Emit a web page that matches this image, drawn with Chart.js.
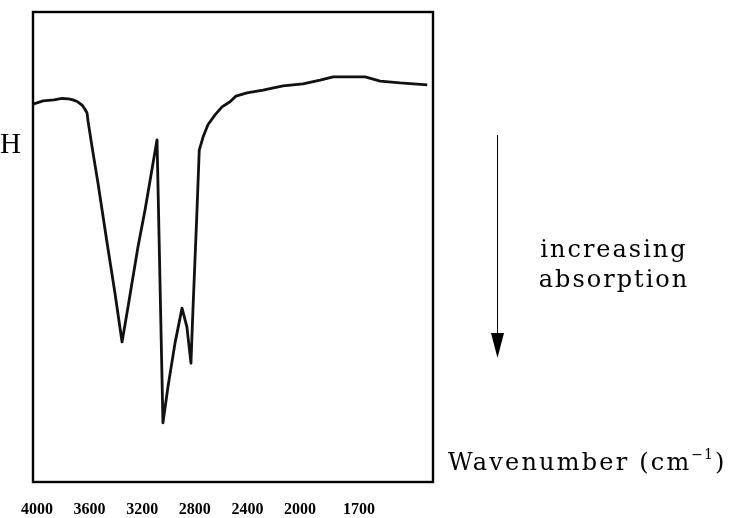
<!DOCTYPE html>
<html>
<head>
<meta charset="utf-8">
<script src="https://cdn.jsdelivr.net/npm/chart.js@4/dist/chart.umd.min.js"></script>
<style>
  html, body { margin: 0; padding: 0; background: #fff; }
  #wrap { width: 734px; height: 518px; }
</style>
</head>
<body>
<div id="wrap"><canvas id="spectrum" width="734" height="518"></canvas></div>
<script>
// IR trace: wavenumber (cm-1) against transmittance (%)
const wavenumbers = [4030, 3954, 3870, 3810, 3760, 3726, 3690, 3657, 3635, 3619, 3611, 3581,
  3536, 3467, 3407, 3353, 3308, 3232, 3178, 3087, 3042, 3004, 2950, 2897, 2860, 2829, 2814,
  2783, 2766, 2737, 2700, 2646, 2593, 2532, 2487, 2403, 2281, 2129, 1985, 1898, 1832, 1746,
  1669, 1593, 1492, 1354];
const transmittance = [80.4, 81.1, 81.3, 81.6, 81.5, 81.3, 80.9, 80.2, 79.3, 78.5, 76.7, 71.3,
  63.6, 50.9, 40.2, 29.8, 37.2, 50.0, 57.9, 72.8, 12.6, 20.2, 29.6, 37.0, 33.0, 25.3, 36.6,
  57.9, 70.6, 73.4, 76.0, 78.1, 79.8, 80.9, 82.1, 82.8, 83.4, 84.3, 84.7, 85.5, 86.2, 86.2,
  86.2, 85.3, 84.9, 84.5];
const tickValues = [4000, 3600, 3200, 2800, 2400, 2000, 1700];

// chart paper changes scale at 2000 cm-1 (lower range is stretched)
const X_HIGH = 4030;
const X_BREAK = 2000;
const X_LOW = 1325;
const BREAK_AT = 267 / 400;

class SplitWavenumberScale extends Chart.LinearScale {
  toDecimal(v) {
    if (v >= X_BREAK) return (X_HIGH - v) / (X_HIGH - X_BREAK) * BREAK_AT;
    return BREAK_AT + (X_BREAK - v) / (X_BREAK - X_LOW) * (1 - BREAK_AT);
  }
  getPixelForValue(v) {
    return this.getPixelForDecimal(this.toDecimal(v));
  }
  getValueForPixel(p) {
    const d = this.getDecimalForPixel(p);
    if (d <= BREAK_AT) return X_HIGH - d / BREAK_AT * (X_HIGH - X_BREAK);
    return X_BREAK - (d - BREAK_AT) / (1 - BREAK_AT) * (X_BREAK - X_LOW);
  }
}
SplitWavenumberScale.id = 'splitWavenumber';
SplitWavenumberScale.defaults = Chart.LinearScale.defaults;
Chart.register(SplitWavenumberScale);

// box around the plot plus the side notes
const decorations = {
  id: 'decorations',
  afterDraw(chart) {
    const ctx = chart.ctx;
    const area = chart.chartArea;
    ctx.save();
    ctx.strokeStyle = '#000';
    ctx.fillStyle = '#000';

    ctx.lineWidth = 2.4;
    ctx.strokeRect(area.left, area.top, area.right - area.left, area.bottom - area.top);

    ctx.font = '29px "Liberation Serif"';
    ctx.textBaseline = 'alphabetic';
    ctx.textAlign = 'left';
    ctx.fillText('H', 0, 153);

    // downward arrow
    ctx.lineWidth = 1;
    ctx.beginPath();
    ctx.moveTo(497.5, 135);
    ctx.lineTo(497.5, 340);
    ctx.stroke();
    ctx.beginPath();
    ctx.moveTo(491, 333);
    ctx.lineTo(504, 333);
    ctx.lineTo(497.5, 358);
    ctx.closePath();
    ctx.fill();

    ctx.font = '24px "DejaVu Serif"';
    ctx.letterSpacing = '2px';
    ctx.textAlign = 'center';
    ctx.fillText('increasing', 614, 257);
    ctx.fillText('absorption', 614, 287);

    // axis name with superscript
    ctx.textAlign = 'left';
    ctx.letterSpacing = '2.2px';
    ctx.font = '24px "DejaVu Serif"';
    let x = 448;
    const main = 'Wavenumber (cm';
    ctx.fillText(main, x, 470);
    x += ctx.measureText(main).width;
    ctx.letterSpacing = '1px';
    ctx.font = '14px "DejaVu Serif"';
    ctx.fillText('\u22121', x, 459);
    x += ctx.measureText('\u22121').width + 1;
    ctx.font = '24px "DejaVu Serif"';
    ctx.fillText(')', x, 470);
    ctx.restore();
  }
};

new Chart(document.getElementById('spectrum'), {
  type: 'line',
  data: {
    datasets: [{
      data: wavenumbers.map((w, i) => ({ x: w, y: transmittance[i] })),
      borderColor: '#111',
      borderWidth: 2.8,
      borderJoinStyle: 'round',
      pointRadius: 0,
      tension: 0,
      fill: false
    }]
  },
  options: {
    responsive: false,
    animation: false,
    layout: { padding: { left: 33, top: 12, right: 301, bottom: 0 } },
    plugins: { legend: { display: false }, tooltip: { enabled: false } },
    scales: {
      x: {
        type: 'splitWavenumber',
        min: X_LOW,
        max: X_HIGH,
        afterBuildTicks: scale => { scale.ticks = tickValues.map(v => ({ value: v })); },
        afterFit: scale => { scale.height = 36; },
        grid: { display: false, drawTicks: false },
        border: { display: false },
        ticks: {
          autoSkip: false,
          maxRotation: 0,
          padding: 18,
          color: '#000',
          font: { family: 'Liberation Serif', size: 16, weight: 'bold' },
          callback: v => String(v)
        }
      },
      y: { min: 0, max: 100, display: false }
    }
  },
  plugins: [decorations]
});
</script>
</body>
</html>
